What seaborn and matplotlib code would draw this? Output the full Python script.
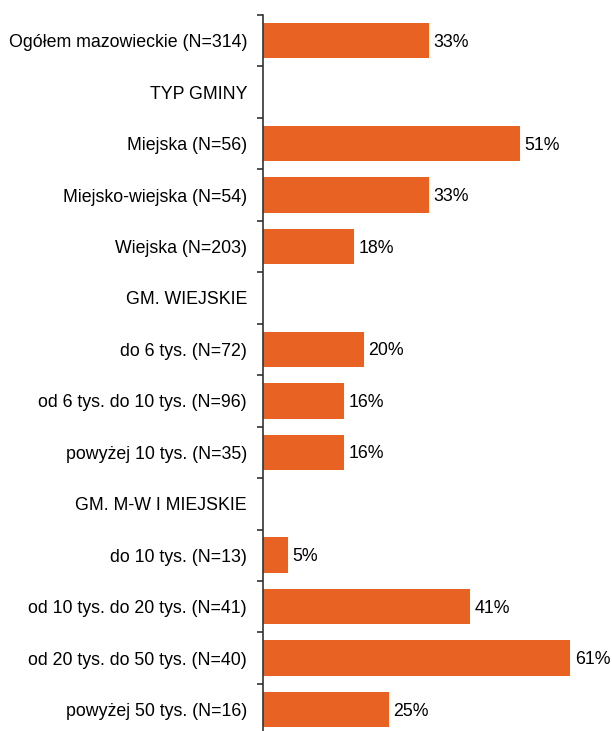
import numpy as np
import pandas as pd
import matplotlib
matplotlib.use("Agg")
import matplotlib.pyplot as plt
import seaborn as sns

categories = [
    "Ogółem mazowieckie (N=314)",
    "TYP GMINY",
    "Miejska (N=56)",
    "Miejsko-wiejska (N=54)",
    "Wiejska (N=203)",
    "GM. WIEJSKIE",
    "do 6 tys. (N=72)",
    "od 6 tys. do 10 tys. (N=96)",
    "powyżej 10 tys. (N=35)",
    "GM. M-W I MIEJSKIE",
    "do 10 tys. (N=13)",
    "od 10 tys. do 20 tys. (N=41)",
    "od 20 tys. do 50 tys. (N=40)",
    "powyżej 50 tys. (N=16)",
]
values = [33, np.nan, 51, 33, 18, np.nan, 20, 16, 16, np.nan, 5, 41, 61, 25]

df = pd.DataFrame({"kategoria": categories, "procent": values})

sns.set_theme(style="white")
plt.rcParams["font.family"] = ["Liberation Sans", "DejaVu Sans"]

fig = plt.figure(figsize=(6.12, 7.31), dpi=100)
W, H = 612, 731
left_px, top_px, row_px = 263, 15, 51.45
ax = fig.add_axes([left_px / W, 0, (W - left_px) / W, (H - top_px) / H])

sns.barplot(data=df, y="kategoria", x="procent", order=categories,
            orient="h", color="#E86224", saturation=1, width=0.69,
            linewidth=0, ax=ax)

for i, v in enumerate(values):
    if not np.isnan(v):
        ax.text(v + 0.9, i + 0.03, f"{v:.0f}%", va="center", ha="left",
                fontsize=12.8, color="black")

for s in ["top", "right", "bottom"]:
    ax.spines[s].set_visible(False)
ax.spines["left"].set_color("#333333")
ax.spines["left"].set_linewidth(1.2)

ax.set_xticks([])
ax.set_xlabel("")
ax.set_ylabel("")
ax.tick_params(axis="y", which="major", left=True, length=0, pad=11.5,
               labelsize=12.8, labelcolor="black")
ax.set_yticks(np.arange(-0.5, len(categories) - 0.5 + 1e-9, 1.0), minor=True)
ax.tick_params(axis="y", which="minor", left=True, length=4, width=1.2,
               color="#333333", direction="out")

# limits last, so tick placement cannot widen the view
ax.set_xlim(0, (W - left_px) / 5.04)
n_rows = (H - top_px) / row_px
ax.set_ylim(n_rows - 0.5, -0.5)

fig.savefig("out.png", dpi=100)
